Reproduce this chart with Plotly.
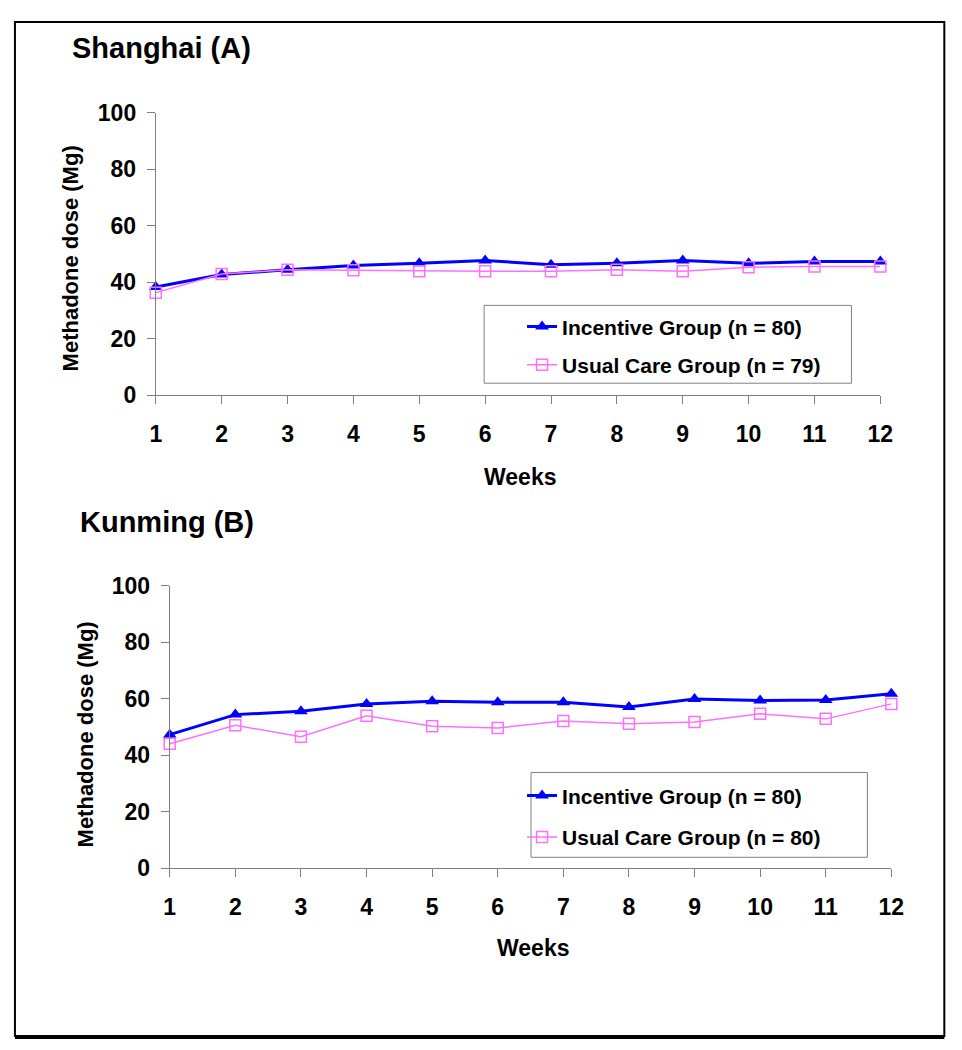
import plotly.graph_objects as go

weeks = list(range(1, 13))
sh_incentive = [38.3, 42.7, 44.4, 45.9, 46.7, 47.7, 46.2, 46.7, 47.7, 46.7, 47.3, 47.3]
sh_usual = [36.3, 42.9, 44.4, 44.2, 43.9, 43.9, 43.9, 44.4, 43.9, 45.3, 45.6, 45.6]
km_incentive = [47.3, 54.4, 55.6, 58.2, 59.1, 58.8, 58.8, 57.1, 59.9, 59.4, 59.6, 61.8]
km_usual = [44.1, 50.6, 46.6, 54.0, 50.3, 49.7, 52.1, 51.2, 51.8, 54.7, 52.9, 58.2]

sh_names = ["Incentive Group (n = 80)", "Usual Care Group (n = 79)"]
km_names = ["Incentive Group (n = 80)", "Usual Care Group (n = 80)"]
yticks = [0, 20, 40, 60, 80, 100]

OFF = 8  # page body margin
W, H = 954, 1045
BLUE = "#0000FF"
PINK = "#FF70FF"
GRAY = "#808080"
FONT = "Liberation Sans, Arial, sans-serif"

def _page_x(x):
    return 5 + (x - 10) / 0.982

def _page_y(y):
    return 12 + (y - 24) / 0.977

def px(x):
    return min(max((_page_x(x) - OFF) / W, 0.001), 0.995)

def py(y):
    return min(max(1 - (_page_y(y) - OFF) / H, 0.001), 0.999)

fig = go.Figure()

def add_pair(inc, usu, names, xa, ya, legend):
    fig.add_trace(go.Scatter(
        x=weeks, y=inc, name=names[0], mode="lines+markers",
        line=dict(color=BLUE, width=3),
        marker=dict(symbol="triangle-up", size=12, color=BLUE),
        xaxis=xa, yaxis=ya, legend=legend, legendgroup=legend + "a",
        cliponaxis=False))
    fig.add_trace(go.Scatter(
        x=weeks, y=usu, name=names[1], mode="lines+markers",
        line=dict(color=PINK, width=1.5),
        marker=dict(symbol="square-open", size=11, color=PINK, line=dict(width=1.5)),
        xaxis=xa, yaxis=ya, legend=legend, legendgroup=legend + "b",
        cliponaxis=False))

add_pair(sh_incentive, sh_usual, sh_names, "x", "y", "legend")
add_pair(km_incentive, km_usual, km_names, "x2", "y2", "legend2")

axis_common = dict(showgrid=False, zeroline=False, showline=True, linecolor=GRAY,
                   linewidth=1, ticks="outside", tickcolor=GRAY, ticklen=8,
                   tickfont=dict(family=FONT, size=23, color="black", weight="bold"))

fig.update_layout(
    width=W, height=H,
    margin=dict(l=0, r=0, t=0, b=0),
    paper_bgcolor="white", plot_bgcolor="white",
    showlegend=True,
    font=dict(family=FONT, color="black"),
    xaxis=dict(domain=[px(155), px(881)], range=[1, 12], tickvals=weeks,
               anchor="y", ticklabelstandoff=10, **axis_common),
    yaxis=dict(domain=[py(395), py(112)], range=[0, 100], tickvals=yticks,
               anchor="x", ticklabelstandoff=6, **axis_common),
    xaxis2=dict(domain=[px(169), px(892)], range=[1, 12], tickvals=weeks,
                anchor="y2", ticklabelstandoff=10, **axis_common),
    yaxis2=dict(domain=[py(869), py(586)], range=[0, 100], tickvals=yticks,
                anchor="x2", ticklabelstandoff=6, **axis_common),
    legend=dict(x=px(522), y=py(306), xanchor="left", yanchor="top",
                bgcolor="rgba(0,0,0,0)", borderwidth=0, traceorder="grouped",
                tracegroupgap=8,
                font=dict(family=FONT, size=21, color="black", weight="bold")),
    legend2=dict(x=px(522), y=py(776), xanchor="left", yanchor="top",
                 bgcolor="rgba(0,0,0,0)", borderwidth=0, traceorder="grouped",
                 tracegroupgap=11,
                 font=dict(family=FONT, size=21, color="black", weight="bold")),
)

shapes = [
    dict(type="rect", xref="paper", yref="paper", x0=px(5), x1=px(955), y0=py(1037), y1=py(12),
         line=dict(color="black", width=2)),
    dict(type="line", xref="paper", yref="paper", x0=px(6), x1=px(957), y0=py(1039), y1=py(1039),
         line=dict(color="black", width=2)),
    dict(type="rect", xref="paper", yref="paper", x0=px(484), x1=px(852), y0=py(383), y1=py(305),
         line=dict(color=GRAY, width=1)),
    dict(type="rect", xref="paper", yref="paper", x0=px(531), x1=px(868), y0=py(858), y1=py(773),
         line=dict(color=GRAY, width=1)),
]
fig.update_layout(shapes=shapes)

def ann(text, x, y, size, angle=0, xanchor="center"):
    fig.add_annotation(text=text, x=px(x), y=py(y), xref="paper", yref="paper",
                       xanchor=xanchor, yanchor="middle", showarrow=False, textangle=angle,
                       font=dict(family=FONT, size=size, color="black", weight="bold"))

ann("Shanghai (A)", 69, 47, 29, xanchor="left")
ann("Kunming (B)", 77, 522, 29, xanchor="left")
ann("Methadone dose (Mg)", 70, 258, 22, angle=-90)
ann("Methadone dose (Mg)", 85, 735, 22, angle=-90)
ann("Weeks", 520, 477, 23)
ann("Weeks", 533, 949, 23)

fig.write_html("out.html")
